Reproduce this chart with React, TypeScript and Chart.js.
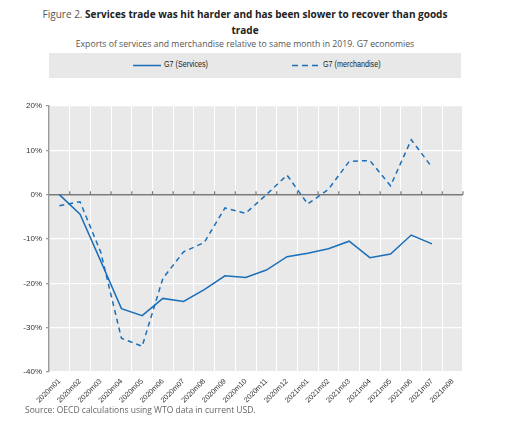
import React, { useEffect, useRef } from "react";
import { Chart, registerables } from "chart.js";

Chart.register(...registerables);

const months = [
  "2020m01", "2020m02", "2020m03", "2020m04", "2020m05", "2020m06", "2020m07", "2020m08", "2020m09", "2020m10",
  "2020m11", "2020m12", "2021m01", "2021m02", "2021m03", "2021m04", "2021m05", "2021m06", "2021m07", "2021m08",
];
const services = [0, -4.4, -15, -25.7, -27.3, -23.4, -24.1, -21.4, -18.3, -18.7, -17.0, -14.0, -13.2, -12.2, -10.5, -14.2, -13.4, -9.1, -11.1, null];
const merchandise = [-2.5, -1.6, -13, -32.4, -34.2, -18.9, -12.9, -10.8, -3.0, -4.2, 0.0, 4.4, -2.1, 1.2, 7.5, 7.7, 2.0, 12.4, 6.2, null];
const yMin = -40;
const yMax = 20;
const yStep = 10;

const BLUE = "#1b6fb9";
const NARROW = '"Liberation Sans Narrow", "Arial Narrow", "Liberation Sans", Arial, sans-serif';
const SANS = '"Open Sans", "Noto Sans", sans-serif';

const bgPlugin = {
  id: "bgPlugin",
  beforeDraw(chart: any) {
    const { ctx, chartArea } = chart;
    ctx.save();
    ctx.fillStyle = "#e9e9e9";
    ctx.fillRect(chartArea.left, chartArea.top, chartArea.right - chartArea.left, chartArea.bottom - chartArea.top);
    ctx.restore();
  },
  beforeDatasetsDraw(chart: any) {
    const { ctx, chartArea, scales } = chart;
    const y0 = scales.y.getPixelForValue(0);
    ctx.save();
    ctx.strokeStyle = "#7a7a7a";
    ctx.lineWidth = 1.5;
    ctx.beginPath();
    ctx.moveTo(chartArea.left, y0);
    ctx.lineTo(chartArea.right, y0);
    ctx.stroke();
    ctx.lineWidth = 1.2;
    const n = months.length;
    const w = (chartArea.right - chartArea.left) / n;
    for (let i = 1; i <= n; i++) {
      const x = chartArea.left + i * w;
      ctx.beginPath();
      ctx.moveTo(x, y0);
      ctx.lineTo(x, y0 - 3.5);
      ctx.stroke();
    }
    ctx.restore();
  },
};

export default function App() {
  const ref = useRef<HTMLCanvasElement | null>(null);
  useEffect(() => {
    if (!ref.current) return;
    const chart = new Chart(ref.current, {
      type: "line",
      data: {
        labels: months,
        datasets: [
          {
            label: "G7 (Services)",
            data: services,
            borderColor: BLUE,
            borderWidth: 1.5,
            pointRadius: 0,
            tension: 0,
            fill: false,
          },
          {
            label: "G7 (merchandise)",
            data: merchandise,
            borderColor: BLUE,
            borderWidth: 1.5,
            borderDash: [5, 4],
            pointRadius: 0,
            tension: 0,
            fill: false,
          },
        ],
      },
      options: {
        animation: false,
        responsive: false,
        maintainAspectRatio: false,
        layout: { padding: { top: 16, right: 49, left: 0, bottom: 0 } },
        plugins: { legend: { display: false }, tooltip: { enabled: false } },
        scales: {
          x: {
            type: "category",
            offset: true,
            grid: { offset: true, color: "#ffffff", lineWidth: 1, drawTicks: false },
            border: { display: false },
            ticks: {
              autoSkip: false,
              minRotation: 45,
              maxRotation: 45,
              padding: 5,
              color: "#333333",
              font: { family: NARROW, size: 7.3 },
            },
            afterFit(scale: any) {
              scale.height = 38;
            },
          },
          y: {
            min: yMin,
            max: yMax,
            ticks: {
              stepSize: yStep,
              callback: (v: any) => v + "%",
              color: "#333333",
              padding: 4,
              font: { family: NARROW, size: 8 },
            },
            grid: { color: "#ffffff", lineWidth: 1.3, tickColor: "#9a9a9a", tickLength: 3 },
            border: { display: true, color: "#9a9a9a", width: 1.5 },
            afterFit(scale: any) {
              scale.width = 49;
            },
          },
        },
      },
      plugins: [bgPlugin],
    });
    return () => chart.destroy();
  }, []);

  const legendText: React.CSSProperties = {
    position: "absolute",
    top: 6,
    whiteSpace: "nowrap",
    transform: "scaleX(0.8)",
    transformOrigin: "left center",
  };

  return (
    <div style={{ position: "fixed", left: 0, top: 0, width: 512, height: 425, background: "#fff", overflow: "hidden" }}>
      <div
        style={{
          position: "absolute",
          top: 6,
          left: 0,
          width: 490,
          textAlign: "center",
          fontFamily: SANS,
          fontSize: 10,
          lineHeight: "16px",
          color: "#222",
        }}
      >
        <span style={{ color: "#555" }}>Figure 2. </span>
        <b>Services trade was hit harder and has been slower to recover than goods</b>
        <br />
        <b>trade</b>
      </div>
      <div
        style={{
          position: "absolute",
          top: 38,
          left: 0,
          width: 490,
          textAlign: "center",
          fontFamily: SANS,
          fontSize: 8.7,
          color: "#555",
          whiteSpace: "nowrap",
        }}
      >
        Exports of services and merchandise relative to same month in 2019. G7 economies
      </div>
      <div
        style={{
          position: "absolute",
          top: 53,
          left: 49,
          width: 412,
          height: 25,
          background: "#e8e8e8",
          fontFamily: NARROW,
          fontSize: 9,
          color: "#222",
        }}
      >
        <svg style={{ position: "absolute", left: 84, top: 11 }} width={28} height={3}>
          <line x1={0} y1={1.5} x2={28} y2={1.5} stroke={BLUE} strokeWidth={1.5} />
        </svg>
        <div style={{ ...legendText, left: 115 }}>G7 (Services)</div>
        <svg style={{ position: "absolute", left: 243, top: 11 }} width={28} height={3}>
          <line x1={0} y1={1.5} x2={28} y2={1.5} stroke={BLUE} strokeWidth={1.5} strokeDasharray="6 4" />
        </svg>
        <div style={{ ...legendText, left: 274 }}>G7 (merchandise)</div>
      </div>
      <canvas ref={ref} width={512} height={320} style={{ position: "absolute", left: 0, top: 90, width: 512, height: 320 }} />
      <div
        style={{
          position: "absolute",
          top: 404,
          left: 25,
          fontFamily: SANS,
          fontSize: 8.5,
          color: "#666",
          whiteSpace: "nowrap",
        }}
      >
        Source: OECD calculations using WTO data in current USD.
      </div>
    </div>
  );
}
